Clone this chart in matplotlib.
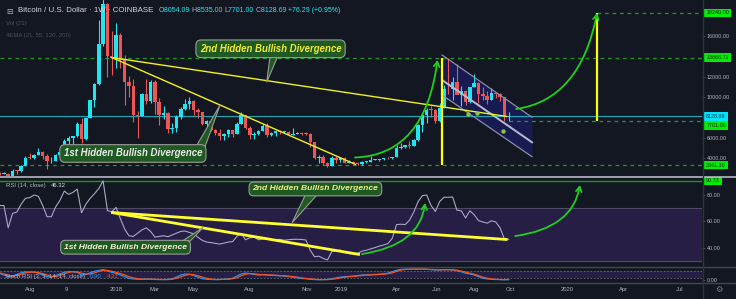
import numpy as np
import matplotlib.pyplot as plt
import matplotlib.transforms as mtransforms
from matplotlib.patches import Polygon, FancyArrowPatch
from matplotlib.path import Path
from matplotlib.lines import Line2D
from matplotlib.ticker import FormatStrFormatter

plt.rcParams['font.family'] = ['Liberation Sans', 'DejaVu Sans']

""" Data """
# week number, counted from the week of 2018-01-01
weeks = np.arange(-27, 92)

opens = [2590, 2500, 2510, 1930, 2760, 2750, 3250, 4060,
         4000, 4340, 4580, 4200, 3700, 3780, 4370, 4610,
         5700, 6000, 6140, 7400, 5860, 7990, 9700, 11260,
         15200, 19100, 14000, 13869, 16100, 13600, 11500, 11100,
         8200, 8100, 10300, 9600, 11500, 9500, 8200, 8450,
         6900, 7000, 8000, 8800, 9350, 9650, 8700, 8500,
         7350, 7700, 6780, 6500, 6150, 6400, 6750, 6350,
         7400, 8200, 7000, 6300, 6400, 6700, 7200, 6250,
         6500, 6700, 6600, 6620, 6300, 6400, 6450, 6400,
         6350, 5600, 4000, 4150, 3500, 3200, 4000, 3850,
         4050, 3550, 3600, 3550, 3400, 3650, 3650, 3850,
         3860, 3950, 4000, 3990, 4100, 5050, 5060, 5300,
         5200, 5800, 7250, 8200, 8750, 8740, 7650, 8970,
         10800, 10750, 11450, 10200, 10550, 9500, 10950, 11400,
         10300, 10150, 9750, 10400, 10300, 10030, 8054.09]
highs = [2700, 2640, 2530, 2930, 2830, 3300, 4200, 4480,
         4400, 4980, 4700, 4380, 4100, 4400, 4620, 5850,
         6200, 6180, 7600, 7900, 8000, 9720, 11400, 17500,
         19890, 19200, 16500, 17250, 16300, 14100, 12100, 11750,
         8600, 10350, 11800, 11700, 11700, 9950, 9100, 8500,
         7500, 8250, 9000, 9800, 9980, 9700, 8900, 8520,
         7760, 7800, 6900, 6830, 6500, 6850, 6800, 7600,
         8500, 8250, 7150, 6600, 6800, 7400, 7420, 6600,
         6800, 6800, 6700, 6700, 7000, 6550, 6550, 6600,
         6450, 5600, 4300, 4350, 3600, 4200, 4200, 4100,
         4100, 3800, 3700, 3600, 3700, 3700, 4200, 3950,
         3950, 4050, 4100, 4150, 5300, 5450, 5350, 5650,
         5850, 7400, 8350, 8950, 9100, 8800, 9400, 11200,
         13870, 12000, 13200, 11100, 10650, 11000, 12300, 11450,
         10950, 10600, 10900, 10450, 10400, 10050, 8535]
lows = [2330, 2480, 1840, 1920, 2420, 2620, 3240, 3950,
        3950, 4300, 3970, 2980, 3500, 3740, 4140, 4580,
        5100, 5400, 6100, 5500, 5840, 7990, 9000, 11200,
        15000, 12000, 12200, 12800, 12800, 9200, 10000, 7600,
        6000, 8100, 9300, 9400, 8350, 7300, 7800, 6500,
        6500, 6600, 7800, 8700, 8800, 8250, 7950, 7300,
        7050, 6650, 6300, 5780, 5800, 6100, 6100, 6350,
        7350, 6900, 5880, 5900, 6260, 6670, 6100, 6150,
        6150, 6400, 6450, 6200, 6300, 6350, 6250, 6250,
        5150, 3900, 3500, 3350, 3150, 3200, 3550, 3650,
        3500, 3500, 3450, 3350, 3350, 3550, 3650, 3800,
        3700, 3850, 3950, 3950, 4100, 4950, 5000, 5050,
        5200, 5700, 6600, 7500, 8000, 7450, 7550, 8970,
        10300, 9700, 11100, 9100, 9200, 9400, 10950, 9450,
        9750, 9350, 9750, 9900, 9600, 7700, 7701]
closes = [2500, 2510, 1930, 2760, 2750, 3250, 4060, 4000,
          4340, 4580, 4200, 3700, 3780, 4370, 4610, 5700,
          6000, 6140, 7400, 5860, 7990, 9700, 11260, 15200,
          19100, 14000, 13869, 16100, 13600, 11500, 11100, 8200,
          8100, 10300, 9600, 11500, 9500, 8200, 8450, 6900,
          7000, 8000, 8800, 9350, 9650, 8700, 8500, 7350,
          7700, 6780, 6500, 6150, 6400, 6750, 6350, 7400,
          8200, 7000, 6300, 6400, 6700, 7200, 6250, 6500,
          6700, 6600, 6620, 6300, 6400, 6450, 6400, 6350,
          5600, 4000, 4150, 3500, 3200, 4000, 3850, 4050,
          3550, 3600, 3550, 3400, 3650, 3650, 3850, 3860,
          3950, 4000, 3990, 4100, 5050, 5060, 5300, 5200,
          5800, 7250, 8200, 8750, 8740, 7650, 8970, 10800,
          10750, 11450, 10200, 10550, 9500, 10950, 11400, 10300,
          10150, 9750, 10400, 10300, 10030, 8054.09, 8128.69]

rsi = [72, 72, 55, 66, 67, 73, 77.5, 78,
       80, 79, 72, 63.5, 63.5, 71, 76, 83,
       80.5, 82, 84.5, 66.5, 73, 77.5, 81, 85,
       90.7, 68.2, 67.3, 70.6, 62, 54, 49, 48.5,
       51, 53.5, 55, 52.3, 48, 48.5, 49, 48.3,
       49.6, 51, 52.3, 52.6, 51.5, 50.5, 47.8, 45.5,
       44.2, 43.8, 43.2, 42.7, 43.4, 44.2, 44.5, 48.5,
       50.9, 46, 47.5, 48, 46, 46.5, 47, 46,
       46, 46.3, 45.6, 46, 46.3, 46.3, 46.2, 45.8,
       38, 33, 33.5, 31.8, 30.6, 37, 37.6, 38.1,
       36.2, 35.4, 35.1, 35.7, 37.3, 38, 39, 40,
       41.1, 42, 43, 47, 57.5, 57.8, 57.5, 60.8,
       67, 75, 79.5, 80, 72, 67.5, 75, 78.3,
       78.3, 78.5, 68.5, 68, 62.5, 68, 65, 60.5,
       59.5, 58.6, 60.4, 59.5, 55, 46.5, 46.32]

stoch_k = [60, 45, 30, 35, 50, 65, 75, 70,
           72, 60, 45, 30, 25, 40, 55, 70,
           78, 75, 70, 45, 50, 65, 80, 88,
           95, 82, 70, 60, 45, 30, 15, 8,
           5, 5, 8, 6, 3, 2, 2, 3,
           10, 25, 45, 55, 52, 40, 25, 12,
           5, 3, 2, 3, 5, 8, 15, 35,
           55, 62, 58, 50, 45, 48, 45, 42,
           40, 38, 35, 30, 25, 18, 12, 10,
           5, 2, 1, 2, 3, 10, 18, 25,
           30, 32, 35, 40, 45, 45, 48, 50,
           52, 55, 62, 75, 90, 98, 100, 100,
           100, 100, 100, 98, 95, 92, 92, 95,
           95, 92, 85, 75, 62, 55, 45, 30,
           15, 8, 5, 3, 2, 1, 0.9]
stoch_d = [65, 55, 42, 35, 40, 52, 65, 72,
           72, 68, 58, 45, 32, 30, 42, 55,
           70, 76, 74, 62, 55, 55, 65, 78,
           88, 88, 80, 70, 58, 45, 30, 18,
           10, 6, 6, 6, 5, 4, 3, 3,
           5, 14, 28, 42, 50, 48, 38, 25,
           14, 7, 3, 3, 4, 6, 10, 20,
           38, 52, 58, 56, 50, 48, 46, 45,
           42, 40, 38, 34, 30, 24, 18, 13,
           9, 5, 3, 2, 2, 5, 10, 18,
           24, 29, 32, 36, 40, 44, 46, 48,
           50, 53, 57, 65, 78, 90, 96, 99,
           100, 100, 100, 99, 97, 95, 93, 94,
           94, 93, 90, 82, 72, 62, 52, 40,
           25, 15, 8, 5, 3, 2, 4.31]

# x labels (week positions)
tick_pos = [-19.9, -11.6, 0, 9.0, 17.8, 30.8, 44.3, 52.1, 65.1, 74.4, 83.0, 91.5, 104.5, 117.7, 130.5]
tick_lab = ['Aug', '9', '2018', 'Mar', 'May', 'Aug', 'Nov', '2019', 'Apr', 'Jun', 'Aug', 'Oct', '2020', 'Apr', 'Jul']

# drawings on the price chart
last_price = 8128.69
levels_full = [13868.72, 3341.30]
level_low, level_low_from = 7701.00, 91
level_top, level_top_from = 18240.00, 111.5
div2_x, div2_y = [-1, 90.5], [13869, 8100]
div1_x, div1_y = [-1, 55.5], [13869, 3400]
vline1_x, vline1_y = 75.55, [3341.30, 13868.72]
vline2_x, vline2_y = 111.5, [7701.00, 18240.00]
chan_x = [75.55, 96.4]
chan_top = [14118, 8016]
chan_mid = [11669, 5567]
chan_bot = [10200, 4157]
dots_x, dots_y = [81.6, 83.6, 89.6], [8330, 8460, 6700]
arrow1 = [(55.4, 4078), (71.6, 4323), (74.5, 13628)]
arrow2 = [(92.7, 8828), (107.5, 9710), (111.5, 18231)]

# drawings on RSI
rsi_div2_x, rsi_div2_y = [-0.8, 90.4], [66.6, 46.2]
rsi_div1_x, rsi_div1_y = [-0.8, 56.2], [66.6, 34.9]
rsi_level = 90.73
rsi_arrow1 = [(57.0, 35.1), (70.5, 42.0), (71.6, 73.9)]
rsi_arrow2 = [(92.5, 48.8), (105.9, 54.9), (107.5, 87.6)]

""" Styles """
BG = '#131722'
CYAN = '#22e5f2'
RED = '#ef5555'
GRID_TXT = '#b2b5be'
LIME = '#00ee00'
DASH_GREEN = '#1f9a1f'
YELLOW = '#f2f21c'
ARROW_GREEN = '#1fd01f'
BOX_FC = '#1e5a22'
BOX_EC = '#9a9a9a'
BAND = '#261e45'

W, H = 736, 299
fig = plt.figure(figsize=(W / 100, H / 100), dpi=100, facecolor=BG)


def box(x0, y0, x1, y1):
    # pixel box -> figure fraction
    return [x0 / W, 1 - y1 / H, (x1 - x0) / W, (y1 - y0) / H]


ax = fig.add_axes(box(0, 0, 702, 176))
ax_rsi = fig.add_axes(box(0, 177, 702, 267))
ax_st = fig.add_axes(box(0, 267.5, 702, 282.5))

for a in (ax, ax_rsi, ax_st):
    a.set_facecolor(BG)
    a.set_xlim(-26.9, 135.8)
    for s in a.spines.values():
        s.set_visible(False)
    a.tick_params(axis='x', length=0, labelbottom=False)
    a.yaxis.tick_right()
    a.tick_params(axis='y', length=2, width=0.5, color='#5d606b', labelsize=3.9,
                  labelcolor=GRID_TXT, pad=1.5)
    a.yaxis.set_major_formatter(FormatStrFormatter('%.2f'))

ax.set_ylim(2266, 19504)
ax.set_yticks([4000, 6000, 10000, 12000, 16000])
ax_rsi.set_ylim(25.25, 93.7)
ax_rsi.set_yticks([40, 60, 80])
ax_st.set_ylim(-25, 115)
ax_st.set_yticks([0])
ax_st.set_xticks(tick_pos)
ax_st.set_xticklabels(tick_lab)
ax_st.tick_params(axis='x', labelbottom=True, labelsize=4.2, labelcolor=GRID_TXT, pad=3.5)


def curve_arrow(axis, pts, lw=1.3):
    path = Path(pts, [Path.MOVETO, Path.CURVE3, Path.CURVE3])
    arr = FancyArrowPatch(path=path, arrowstyle='->,head_length=3.5,head_width=2',
                          color=ARROW_GREEN, lw=lw, zorder=6)
    axis.add_patch(arr)


def callout(axis, center, base, tip, text, tc, fs):
    axis.add_patch(Polygon([base[0], base[1], tip], closed=True, fc=BOX_FC, ec=BOX_EC,
                           lw=0.8, zorder=7))
    axis.text(center[0], center[1], text, ha='center', va='center', fontsize=fs, color=tc,
              fontweight='bold', fontstyle='italic', zorder=8,
              bbox=dict(boxstyle='round,pad=0.4,rounding_size=0.55', fc=BOX_FC, ec=BOX_EC, lw=0.8))


def tag(axis, y, text, fc, tc='#1b1b1b'):
    tr = mtransforms.blended_transform_factory(axis.transAxes, axis.transData)
    axis.text(1.006, y, text, transform=tr, fontsize=3.9, color=tc, va='center', ha='left',
              clip_on=False, zorder=10, bbox=dict(boxstyle='square,pad=0.35', fc=fc, ec='none'))


""" Price chart """
o = np.array(opens)
c = np.array(closes)
col = np.where(c >= o, CYAN, RED)
ax.fill_between(chan_x, chan_bot, chan_top, color='#171b52', lw=0, zorder=1)
for lv in levels_full:
    ax.axhline(lv, color=DASH_GREEN, ls=(0, (3, 3)), lw=0.9, zorder=2)
ax.hlines(level_low, level_low_from, 136, color=DASH_GREEN, ls=(0, (3, 3)), lw=0.9, zorder=2)
ax.hlines(level_top, level_top_from, 136, color=DASH_GREEN, ls=(0, (3, 3)), lw=0.9, zorder=2)
ax.axhline(last_price, color='#1ca7b6', lw=0.8, zorder=2)

ax.vlines(weeks, lows, highs, colors=col, lw=0.8, zorder=3)
ax.bar(weeks, np.maximum(np.abs(c - o), 80), bottom=np.minimum(o, c), width=0.8,
       color=col, lw=0, zorder=4)

ax.plot(chan_x, chan_top, color='#8a8cab', lw=0.9, zorder=5)
ax.plot(chan_x, chan_mid, color='#b9bad0', lw=1.4, zorder=5)
ax.plot(chan_x, chan_bot, color='#8a8cab', lw=0.9, zorder=5)
ax.plot(div2_x, div2_y, color=YELLOW, lw=1.0, zorder=5)
ax.plot(div1_x, div1_y, color=YELLOW, lw=1.0, zorder=5)
ax.vlines(vline1_x, *vline1_y, color='#ffff00', lw=1.6, zorder=5)
ax.vlines(vline2_x, *vline2_y, color='#ffff00', lw=1.6, zorder=5)
ax.scatter(dots_x, dots_y, s=10, color='#8bc34a', zorder=6, lw=0)
curve_arrow(ax, arrow1)
curve_arrow(ax, arrow2)

callout(ax, (35.8, 14725), [(35.7, 14020), (37.5, 14020)], (34.9, 11444),
        '2nd Hidden Bullish Divergence', '#f2e936', 6.9)
callout(ax, (3.9, 4470), [(18.5, 5107), (20.6, 5107)], (24.1, 9220),
        '1st Hidden Bullish Divergence', '#ebebeb', 6.9)

tag(ax, 18240.00, '18240.00', LIME)
tag(ax, 13868.72, '13868.72', LIME)
tag(ax, last_price, '8128.69', '#00e5ff', '#0d3440')
tag(ax, 7190, '7701.00', LIME)
tag(ax, 3341.30, '3341.30', LIME)

""" RSI """
ax_rsi.axhspan(30, 70, color=BAND, lw=0, zorder=0)
ax_rsi.axhline(70, color='#4f4a66', lw=0.8, zorder=1)
ax_rsi.axhline(30, color='#4f4a66', lw=0.8, zorder=1)
ax_rsi.axhline(rsi_level, color='#1a9a1a', lw=1.0, zorder=1)
ax_rsi.plot(weeks, rsi, color='#aaa6c6', lw=0.8, zorder=3)
ax_rsi.plot(rsi_div2_x, rsi_div2_y, color='#ffff30', lw=2.0, zorder=4)
ax_rsi.plot(rsi_div1_x, rsi_div1_y, color='#ffff30', lw=2.0, zorder=4)
curve_arrow(ax_rsi, rsi_arrow1)
curve_arrow(ax_rsi, rsi_arrow2)
callout(ax_rsi, (46.2, 84.6), [(44.0, 81), (46.8, 81)], (40.8, 58.9),
        '2nd Hidden Bullish Divergence', '#f3ee86', 6.1)
callout(ax_rsi, (2.2, 40.3), [(15.3, 44.8), (17.1, 44.8)], (20.2, 55.4),
        '1st Hidden Bullish Divergence', '#f4f1d6', 6.1)
tag(ax_rsi, rsi_level, '90.73', LIME)

""" Stoch RSI """
ax_st.axhspan(20, 80, color=BAND, lw=0, zorder=0)
ax_st.axhline(80, color='#6a6682', lw=0.6, ls=(0, (2, 2)), zorder=1)
ax_st.axhline(20, color='#6a6682', lw=0.6, ls=(0, (2, 2)), zorder=1)
ax_st.plot(weeks, stoch_k, color='#2196f3', lw=0.9, zorder=3)
ax_st.plot(weeks, stoch_d, color='#f4511e', lw=0.9, zorder=3)

# separators
fig.add_artist(Line2D([0, 1], [1 - 176.5 / H] * 2, color='#c4c6ce', lw=1.1))
fig.add_artist(Line2D([0, 1], [1 - 267 / H] * 2, color='#434651', lw=1.0))
fig.add_artist(Line2D([0, 1], [1 - 282.8 / H] * 2, color='#434651', lw=1.0))
fig.add_artist(Line2D([702.5 / W] * 2, [0, 1], color='#2f333e', lw=1.0))

""" Legend texts """
rend = fig.canvas.get_renderer()


def chain(x, y, parts, fs):
    for s, colr in parts:
        t = fig.text(x / W, 1 - y / H, s, color=colr, fontsize=fs, va='center', ha='left', zorder=20)
        x += t.get_window_extent(rend).width


fig.text(6 / W, 1 - 11 / H, '\u229f', color=GRID_TXT, fontsize=5.5, va='center', ha='left',
         family='DejaVu Sans')
chain(18, 11, [('Bitcoin / U.S. Dollar \u00b7 1W \u00b7 COINBASE', '#d1d4dc')], 5.7)
chain(159, 11, [('O', GRID_TXT), ('8054.09 ', CYAN), ('H', GRID_TXT), ('8535.00 ', CYAN),
                ('L', GRID_TXT), ('7701.00 ', CYAN), ('C', GRID_TXT), ('8128.69 ', CYAN),
                ('+76.29 (+0.95%)', CYAN)], 5.0)
chain(6, 24, [('Vol (21)', '#4a4f5c')], 4.3)
chain(6, 36, [('4EMA (21, 55, 120, 200)', '#4a4f5c')], 4.3)
chain(6, 185.7, [('RSI (14, close)   ', GRID_TXT), ('46.32', '#d9d9e6')], 4.3)
chain(5, 276.3, [('Stoch RSI (3, 3, 14, 14, close)   ', GRID_TXT), ('0.90', '#2196f3'),
                 ('   ', GRID_TXT), ('4.31', '#f4511e')], 4.3)
fig.text(719 / W, 1 - 289 / H, '\u2699', color='#787b86', fontsize=6, va='center', ha='center',
         family='DejaVu Sans')

fig.savefig('out.png', dpi=100, facecolor=BG)
